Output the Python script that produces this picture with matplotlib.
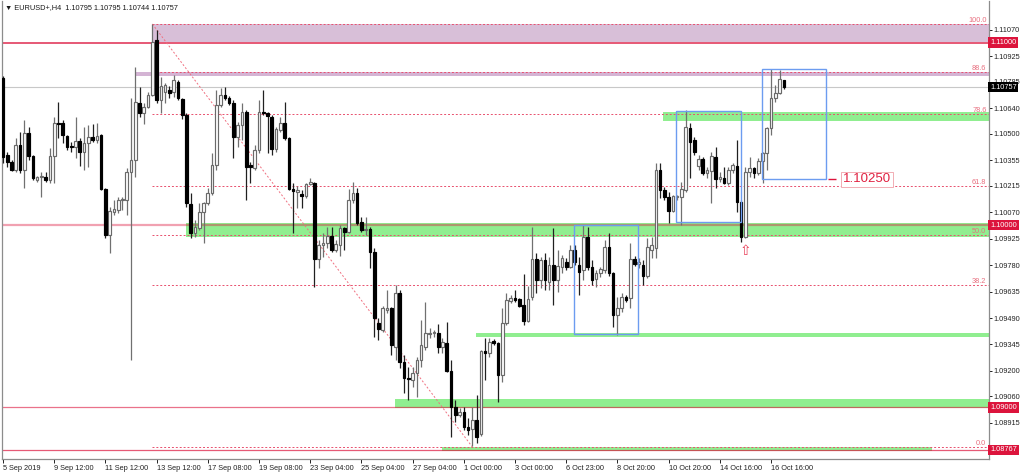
import numpy as np
import matplotlib.pyplot as plt
from matplotlib.patches import Rectangle
from matplotlib.transforms import blended_transform_factory

plt.rcParams['font.family'] = ['Liberation Sans', 'DejaVu Sans']

# EURUSD+ H4 candles, bar 0 = 5 Sep 2019 00:00
opens = [
    1.10807, 1.10384, 1.10346, 1.10302, 1.10439, 1.10302, 1.10505, 1.10379, 1.10247, 1.10264,
    1.10264, 1.10247, 1.10379, 1.10560, 1.10560, 1.10489, 1.10434, 1.10428, 1.10461, 1.10401,
    1.10450, 1.10483, 1.10467, 1.10494, 1.10198, 1.09946, 1.10072, 1.10083, 1.10138, 1.10138,
    1.10291, 1.10357, 1.10670, 1.10615, 1.10648, 1.10714, 1.11015, 1.10686, 1.10730, 1.10741,
    1.10730, 1.10785, 1.10692, 1.10604, 1.10116, 1.09957, 1.09984, 1.10072, 1.10121, 1.10176,
    1.10330, 1.10659, 1.10714, 1.10697, 1.10670, 1.10483, 1.10549, 1.10620, 1.10330, 1.10313,
    1.10412, 1.10620, 1.10615, 1.10593, 1.10417, 1.10522, 1.10560, 1.10478, 1.10198, 1.10182,
    1.10171, 1.10160, 1.10225, 1.10231, 1.09814, 1.09891, 1.09902, 1.09940, 1.09864, 1.09891,
    1.09984, 1.09962, 1.10138, 1.10176, 1.10017, 1.09973, 1.09979, 1.09853, 1.09463, 1.09425,
    1.09534, 1.09545, 1.09332, 1.09628, 1.09249, 1.09162, 1.09151, 1.09189, 1.09260, 1.09332,
    1.09403, 1.09408, 1.09408, 1.09332, 1.09354, 1.09200, 1.09003, 1.08959, 1.08975, 1.08893,
    1.08882, 1.08931, 1.08855, 1.09310, 1.09299, 1.09364, 1.09354, 1.09178, 1.09463, 1.09584,
    1.09600, 1.09595, 1.09562, 1.09474, 1.09606, 1.09814, 1.09699, 1.09809, 1.09688, 1.09781,
    1.09699, 1.09770, 1.09798, 1.09770, 1.09864, 1.09781, 1.09754, 1.09935, 1.09770, 1.09705,
    1.09737, 1.09754, 1.09880, 1.09737, 1.09507, 1.09545, 1.09606, 1.09600, 1.09814, 1.09787,
    1.09781, 1.09721, 1.09864, 1.09875, 1.10302, 1.10193, 1.10154, 1.10077, 1.10154, 1.10154,
    1.10193, 1.10533, 1.10467, 1.10324, 1.10362, 1.10286, 1.10297, 1.10373, 1.10253, 1.10258,
    1.10231, 1.10302, 1.10324, 1.10127, 1.09935, 1.10291, 1.10313, 1.10286, 1.10352, 1.10395,
    1.10533, 1.10697, 1.10724, 1.10795]
highs = [
    1.10818, 1.10401, 1.10357, 1.10478, 1.10511, 1.10576, 1.10538, 1.10384, 1.10269, 1.10291,
    1.10291, 1.10423, 1.10593, 1.10675, 1.10576, 1.10494, 1.10456, 1.10593, 1.10478, 1.10538,
    1.10549, 1.10554, 1.10560, 1.10500, 1.10204, 1.10099, 1.10138, 1.10154, 1.10154, 1.10313,
    1.10697, 1.10867, 1.10757, 1.10670, 1.10730, 1.11103, 1.11070, 1.10812, 1.10779, 1.10763,
    1.10823, 1.10796, 1.10697, 1.10615, 1.10176, 1.10028, 1.10121, 1.10127, 1.10204, 1.10395,
    1.10741, 1.10752, 1.10757, 1.10708, 1.10686, 1.10565, 1.10670, 1.10631, 1.10346, 1.10439,
    1.10686, 1.10741, 1.10620, 1.10604, 1.10538, 1.10593, 1.10675, 1.10483, 1.10231, 1.10214,
    1.10193, 1.10231, 1.10258, 1.10236, 1.09918, 1.09957, 1.09990, 1.09990, 1.09918, 1.10001,
    1.09990, 1.10198, 1.10236, 1.10204, 1.10044, 1.10044, 1.09990, 1.09875, 1.09491, 1.09556,
    1.09644, 1.09551, 1.09672, 1.09644, 1.09288, 1.09222, 1.09222, 1.09277, 1.09480, 1.09578,
    1.09436, 1.09425, 1.09458, 1.09381, 1.09469, 1.09260, 1.09041, 1.08997, 1.09003, 1.08942,
    1.09003, 1.09068, 1.09315, 1.09381, 1.09381, 1.09375, 1.09359, 1.09545, 1.09628, 1.09617,
    1.09644, 1.09600, 1.09732, 1.09666, 1.09990, 1.09847, 1.09825, 1.09847, 1.09825, 1.09984,
    1.09864, 1.09836, 1.09820, 1.09891, 1.09891, 1.09825, 1.10001, 1.09990, 1.09809, 1.09754,
    1.09770, 1.09918, 1.09957, 1.09743, 1.09606, 1.09628, 1.09617, 1.09902, 1.09831, 1.09820,
    1.09809, 1.09929, 1.09935, 1.10341, 1.10341, 1.10209, 1.10182, 1.10165, 1.10165, 1.10236,
    1.10631, 1.10560, 1.10483, 1.10384, 1.10373, 1.10319, 1.10401, 1.10428, 1.10291, 1.10319,
    1.10319, 1.10341, 1.10467, 1.10138, 1.10319, 1.10373, 1.10319, 1.10368, 1.10401, 1.10538,
    1.10856, 1.10768, 1.10851, 1.10795]
lows = [
    1.10341, 1.10319, 1.10297, 1.10291, 1.10286, 1.10204, 1.10357, 1.10247, 1.10236, 1.10154,
    1.10236, 1.10231, 1.10231, 1.10478, 1.10450, 1.10412, 1.10401, 1.10368, 1.10324, 1.10302,
    1.10319, 1.10456, 1.10450, 1.10193, 1.09929, 1.09847, 1.10055, 1.10066, 1.10083, 1.10055,
    1.09260, 1.10264, 1.10593, 1.10554, 1.10642, 1.10708, 1.10670, 1.10615, 1.10670, 1.10697,
    1.10703, 1.10686, 1.10582, 1.10099, 1.09929, 1.09935, 1.09973, 1.09902, 1.10110, 1.10165,
    1.10302, 1.10648, 1.10686, 1.10659, 1.10368, 1.10428, 1.10467, 1.10138, 1.10231, 1.10302,
    1.10395, 1.10604, 1.10395, 1.10384, 1.10401, 1.10511, 1.10467, 1.10193, 1.09957, 1.10094,
    1.10094, 1.10149, 1.10220, 1.09661, 1.09765, 1.09825, 1.09875, 1.09853, 1.09853, 1.09831,
    1.09864, 1.09957, 1.10121, 1.10001, 1.09962, 1.09946, 1.09765, 1.09386, 1.09370, 1.09414,
    1.09518, 1.09288, 1.09260, 1.09216, 1.09079, 1.09041, 1.09112, 1.09057, 1.09222, 1.09315,
    1.09381, 1.09386, 1.09299, 1.09299, 1.09195, 1.08838, 1.08920, 1.08948, 1.08876, 1.08849,
    1.08789, 1.08805, 1.08844, 1.09151, 1.09277, 1.09343, 1.09030, 1.09140, 1.09452, 1.09573,
    1.09578, 1.09551, 1.09452, 1.09469, 1.09589, 1.09628, 1.09655, 1.09644, 1.09644, 1.09562,
    1.09633, 1.09737, 1.09754, 1.09765, 1.09781, 1.09617, 1.09699, 1.09754, 1.09672, 1.09661,
    1.09715, 1.09737, 1.09721, 1.09441, 1.09397, 1.09523, 1.09578, 1.09545, 1.09776, 1.09765,
    1.09672, 1.09710, 1.09820, 1.09820, 1.10149, 1.10138, 1.10012, 1.10072, 1.10138, 1.10001,
    1.10182, 1.10258, 1.10384, 1.10302, 1.10275, 1.10258, 1.10121, 1.10204, 1.10236, 1.10225,
    1.10220, 1.10286, 1.10072, 1.09907, 1.09929, 1.10264, 1.10258, 1.10275, 1.10231, 1.10302,
    1.10494, 1.10675, 1.10719, 1.10744]
closes = [
    1.10373, 1.10346, 1.10302, 1.10439, 1.10302, 1.10505, 1.10379, 1.10258, 1.10264, 1.10269,
    1.10247, 1.10379, 1.10560, 1.10554, 1.10494, 1.10428, 1.10428, 1.10461, 1.10401, 1.10450,
    1.10483, 1.10467, 1.10489, 1.10198, 1.09946, 1.10077, 1.10088, 1.10138, 1.10143, 1.10291,
    1.10357, 1.10675, 1.10615, 1.10648, 1.10714, 1.11004, 1.10686, 1.10763, 1.10768, 1.10724,
    1.10796, 1.10697, 1.10604, 1.10121, 1.09957, 1.09990, 1.10072, 1.10121, 1.10176, 1.10330,
    1.10659, 1.10714, 1.10697, 1.10670, 1.10483, 1.10549, 1.10620, 1.10319, 1.10319, 1.10412,
    1.10620, 1.10615, 1.10598, 1.10417, 1.10527, 1.10560, 1.10478, 1.10198, 1.10187, 1.10193,
    1.10160, 1.10225, 1.10236, 1.09814, 1.09891, 1.09902, 1.09940, 1.09864, 1.09896, 1.09984,
    1.09962, 1.10138, 1.10176, 1.10012, 1.09973, 1.09979, 1.09853, 1.09491, 1.09430, 1.09545,
    1.09545, 1.09343, 1.09628, 1.09249, 1.09162, 1.09156, 1.09189, 1.09260, 1.09343, 1.09408,
    1.09408, 1.09414, 1.09332, 1.09359, 1.09200, 1.09003, 1.08959, 1.08975, 1.08893, 1.08876,
    1.08931, 1.08838, 1.09310, 1.09299, 1.09359, 1.09354, 1.09178, 1.09463, 1.09589, 1.09600,
    1.09589, 1.09556, 1.09474, 1.09595, 1.09814, 1.09699, 1.09809, 1.09699, 1.09781, 1.09699,
    1.09776, 1.09820, 1.09770, 1.09864, 1.09798, 1.09743, 1.09935, 1.09770, 1.09699, 1.09737,
    1.09759, 1.09880, 1.09737, 1.09507, 1.09545, 1.09606, 1.09589, 1.09814, 1.09787, 1.09798,
    1.09721, 1.09880, 1.09891, 1.10302, 1.10193, 1.10154, 1.10077, 1.10160, 1.10160, 1.10198,
    1.10538, 1.10456, 1.10401, 1.10362, 1.10286, 1.10302, 1.10379, 1.10253, 1.10264, 1.10231,
    1.10302, 1.10330, 1.10127, 1.09935, 1.10291, 1.10313, 1.10286, 1.10352, 1.10395, 1.10533,
    1.10697, 1.10724, 1.10801, 1.10757]

date_ticks = [0, 12, 24, 36, 48, 60, 72, 84, 96, 108, 120, 132, 144, 156, 168, 180]
date_labels = ['5 Sep 2019', '9 Sep 12:00', '11 Sep 12:00', '13 Sep 12:00', '17 Sep 08:00',
               '19 Sep 08:00', '23 Sep 04:00', '25 Sep 04:00', '27 Sep 04:00', '1 Oct 00:00',
               '3 Oct 00:00', '6 Oct 23:00', '8 Oct 20:00', '10 Oct 20:00', '14 Oct 16:00',
               '16 Oct 16:00']
price_ticks = [1.11070, 1.10925, 1.10785, 1.10640, 1.10500, 1.10355, 1.10215, 1.10070,
               1.09925, 1.09780, 1.09635, 1.09490, 1.09345, 1.09200, 1.09060, 1.08915]

# horizontal levels
level_prices = [1.11000, 1.10000, 1.09000, 1.08767]
level_alpha = [0.9, 0.4, 0.6, 0.7]
level_width = [1.1, 1.6, 0.9, 0.9]
last_price = 1.10757

# fibonacci from 13 Sep high to 1 Oct low
fib_start, fib_end = 35, 110
fib_high, fib_low = 1.11103, 1.08783
fib_ratios = [0.0, 38.2, 50.0, 61.8, 78.6, 88.6, 100.0]

# supply / demand zones
zone_x0 = [42.9, 154.7, 110.85, 91.87, 102.9]
zone_x1 = [231.1, 231.1, 231.1, 231.1, 217.7]
zone_top = [1.10012, 1.10620, 1.09408, 1.09047, 1.08783]
zone_bottom = [1.09935, 1.10571, 1.09386, 1.08997, 1.08761]

# consolidation boxes
box_x0 = [133.8, 157.7, 177.9]
box_x1 = [148.8, 173.0, 192.9]
box_top = [1.10001, 1.10626, 1.10856]
box_bottom = [1.09403, 1.10017, 1.10253]

target_price = 1.10250

fig = plt.figure(figsize=(10.24, 4.74), dpi=100)
ax = fig.add_axes([2 / 1024, 15 / 474, 987 / 1024, 458 / 474])
xmin, xmax = -0.234, 231.08
ax.set_xlim(xmin, xmax)
ax.set_ylim(1.08717, 1.11229)

x = np.arange(len(opens))
o = np.array(opens)
h = np.array(highs)
l = np.array(lows)
c = np.array(closes)
up = c >= o

# candles
ax.vlines(x[up], l[up], h[up], color='#707070', lw=0.9, zorder=3)
ax.vlines(x[~up], l[~up], h[~up], color='#202020', lw=0.9, zorder=3)
ax.bar(x[up], c[up] - o[up], bottom=o[up], width=0.62, color='white',
       edgecolor='#6a6a6a', lw=0.85, zorder=4)
ax.bar(x[~up], o[~up] - c[~up], bottom=c[~up], width=0.62, color='black',
       edgecolor='black', lw=0.85, zorder=4)

# zones
for x0, x1, t, b in zip(zone_x0, zone_x1, zone_top, zone_bottom):
    ax.add_patch(Rectangle((x0, b), x1 - x0, t - b, fc='#90ee90', ec='none', zorder=1))

# purple resistance boxes
ax.add_patch(Rectangle((fib_start, 1.11004), xmax - fib_start, fib_high - 1.11004,
                       fc='#d8bfd8', ec='none', zorder=1))
ax.add_patch(Rectangle((30.9, 1.10818), xmax - 30.9, 1.10839 - 1.10818,
                       fc='#d4b4d4', ec='none', zorder=1))

# price lines
ax.axhline(last_price, color='#c8c8c8', lw=0.8, zorder=2)
for p, a, w in zip(level_prices, level_alpha, level_width):
    ax.axhline(p, color='crimson', alpha=a, lw=w, zorder=2.5)

# fibonacci
for r in fib_ratios:
    lvl = fib_low + r / 100 * (fib_high - fib_low)
    ax.hlines(lvl, fib_start, xmax, colors='#e8506e', lw=0.7, linestyles=(0, (2, 2)), zorder=2.6)
    ax.text(xmax - 0.6, lvl, f'{r:.1f}', color='#e87080', fontsize=5.3, ha='right', va='bottom', zorder=6)
ax.plot([fib_start, fib_end], [fib_high, fib_low], color='#f07080', lw=0.7,
        ls=(0, (2, 2)), zorder=2.6)

# boxes
for x0, x1, t, b in zip(box_x0, box_x1, box_top, box_bottom):
    ax.add_patch(Rectangle((x0, b), x1 - x0, t - b, fc='none', ec='#6c9cf0', lw=1.0, zorder=5))

# arrow and target label
ax.text(173.9, 1.09822, '\u21e7', family='DejaVu Sans', color='#e8405a', fontsize=10,
        ha='center', va='bottom', zorder=6)
ax.hlines(target_price, 193.3, 195.3, colors='crimson', lw=1, zorder=6)
ax.text(202.5, target_price, f'{target_price:.5f}', color='#e02040', fontsize=9.5,
        ha='center', va='center', zorder=6,
        bbox=dict(boxstyle='square,pad=0.12', fc='white', ec='#f0a0a8', lw=0.6))

# axes styling
for s in ['left', 'right', 'bottom']:
    ax.spines[s].set_color('#8c8c8c')
    ax.spines[s].set_linewidth(0.9)
ax.spines['top'].set_visible(False)

ax.yaxis.tick_right()
ax.set_yticks(price_ticks)
ax.set_yticklabels([f'{p:.5f}' for p in price_ticks])
ax.tick_params(axis='y', length=2.5, width=0.7, pad=1, labelsize=5.3, colors='#222222')
ax.set_xticks(date_ticks)
ax.set_xticklabels(date_labels)
ax.tick_params(axis='x', length=3, width=0.7, pad=1, labelsize=5.3, colors='#222222')
for t in ax.get_xticklabels():
    t.set_horizontalalignment('left')

# highlighted price labels on the right
tr = blended_transform_factory(ax.transAxes, ax.transData)
for p in level_prices:
    ax.text(1.001, p, f'{p:.5f}', transform=tr, fontsize=5.3, color='white', ha='left',
            va='center', clip_on=False, zorder=10,
            bbox=dict(boxstyle='square,pad=0.25', fc='#dc143c', ec='none'))
ax.text(1.001, last_price, f'{last_price:.5f}', transform=tr, fontsize=5.3, color='white',
        ha='left', va='center', clip_on=False, zorder=10,
        bbox=dict(boxstyle='square,pad=0.25', fc='black', ec='none'))

fig.text(5 / 1024, 1 - 7.5 / 474, '\u25bc EURUSD+,H4  1.10795 1.10795 1.10744 1.10757',
         fontsize=5.3, color='#1a1a1a', ha='left', va='center')

fig.savefig('out.png', dpi=100)
